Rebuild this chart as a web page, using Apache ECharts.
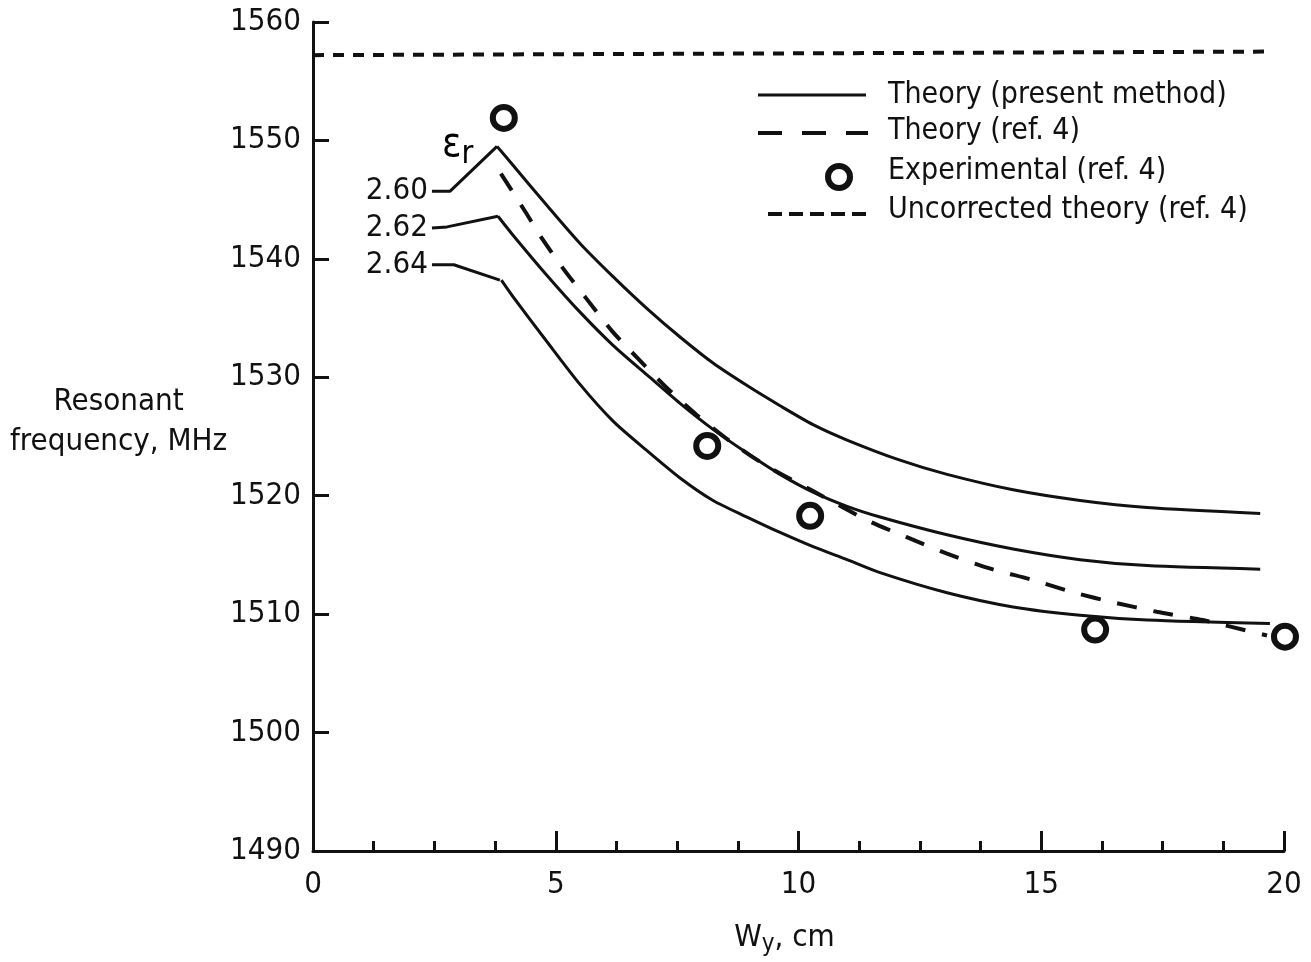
<!DOCTYPE html>
<html>
<head>
<meta charset="utf-8">
<title>Resonant frequency vs W_y</title>
<script src="https://cdn.jsdelivr.net/npm/echarts@6/dist/echarts.min.js"></script>
<style>
  html, body { margin: 0; padding: 0; background: #fff; }
  #chart { width: 1311px; height: 962px; }
</style>
</head>
<body>
<div id="chart"></div>
<script>
// W_y (cm), resonant frequency (MHz)
var xTicks = [0, 5, 10, 15, 20];
var yTicks = [1490, 1500, 1510, 1520, 1530, 1540, 1550, 1560];

// Theory (present method): short leads from the epsilon_r labels to the curve start
var lead260 = [[2.45, 1545.7], [2.82, 1545.7], [3.79, 1549.5]];
var lead262 = [[2.45, 1542.6], [2.76, 1542.7], [3.81, 1543.6]];
var lead264 = [[2.45, 1539.5], [2.90, 1539.5], [3.85, 1538.2]];

// Theory (present method) curves for eps_r = 2.60, 2.62, 2.64
var curve260 = [[3.79, 1549.5], [4.12, 1547.9], [4.82, 1544.5], [5.50, 1541.3], [6.18, 1538.5],
  [6.88, 1535.8], [7.56, 1533.4], [8.24, 1531.2], [8.94, 1529.3], [9.62, 1527.6], [10.30, 1526.0],
  [11.00, 1524.7], [12.09, 1523.0], [13.06, 1521.8], [14.42, 1520.5], [15.80, 1519.6], [17.18, 1519.0],
  [19.51, 1518.5]];
var curve262 = [[3.81, 1543.6], [4.12, 1542.0], [4.82, 1538.6], [5.50, 1535.5], [6.18, 1532.7],
  [6.88, 1530.2], [7.56, 1527.8], [8.24, 1525.6], [8.94, 1523.6], [9.62, 1521.8], [10.30, 1520.3],
  [11.00, 1519.1], [11.68, 1518.2], [13.06, 1516.7], [14.42, 1515.5], [15.80, 1514.6], [17.18, 1514.1],
  [19.51, 1513.8]];
var curve264 = [[3.88, 1538.2], [4.12, 1536.8], [4.82, 1533.0], [5.50, 1529.4], [6.18, 1526.3],
  [6.88, 1523.8], [7.56, 1521.5], [8.24, 1519.6], [8.94, 1518.2], [9.62, 1516.9], [10.30, 1515.7],
  [11.00, 1514.6], [11.68, 1513.5], [13.06, 1511.8], [14.42, 1510.6], [15.80, 1509.9], [17.18, 1509.5],
  [19.71, 1509.2]];

// Theory (ref. 4)
var theoryRef4 = [[3.87, 1547.2], [4.37, 1544.0], [4.72, 1541.7], [5.15, 1539.2], [5.64, 1536.6],
  [6.16, 1533.9], [6.69, 1531.6], [7.29, 1529.1], [7.91, 1526.8], [8.59, 1524.6], [9.31, 1522.6],
  [10.30, 1520.4], [11.43, 1517.9], [12.23, 1516.5], [13.06, 1515.1], [13.90, 1513.9], [14.81, 1512.9],
  [15.70, 1511.8], [16.48, 1511.0], [17.38, 1510.2], [18.33, 1509.5], [19.34, 1508.5], [19.65, 1508.2]];

// Experimental (ref. 4)
var experimental = [[3.93, 1551.9], [8.12, 1524.2], [10.24, 1518.3], [16.11, 1508.7], [20.02, 1508.1]];

// Uncorrected theory (ref. 4)
var uncorrected = [[0, 1557.2], [19.6, 1557.5]];

var epsLabels = ['2.60', '2.62', '2.64'];

var FONT = "'Liberation Sans Narrow', 'DejaVu Sans Condensed', 'Roboto Condensed', sans-serif";
var INK = '#111';

var chart = echarts.init(document.getElementById('chart'), null, { renderer: 'canvas' });

function solidLine(data, smooth) {
  return {
    type: 'line', data: data, showSymbol: false, symbol: 'none', smooth: smooth,
    lineStyle: { color: INK, width: 3 }, silent: true, z: 3
  };
}

function leadLine(data, text) {
  var d = data.map(function (p, i) {
    if (i === 0) {
      return { value: p, label: { show: true, position: 'left', distance: 4, formatter: text,
        fontFamily: FONT, fontSize: 31, color: INK } };
    }
    return p;
  });
  var s = solidLine(d, false);
  s.label = { show: false };
  s.showSymbol = true;
  s.symbolSize = 0.1;
  s.symbol = 'circle';
  s.itemStyle = { color: 'transparent' };
  return s;
}

var legendX = 758, legendTextX = 888;
var legendRows = [97, 133, 173, 212];
var legendNames = ['Theory (present method)', 'Theory (ref. 4)', 'Experimental (ref. 4)', 'Uncorrected theory (ref. 4)'];

var graphics = [
  { type: 'line', shape: { x1: legendX, y1: 95, x2: legendX + 108, y2: 95 },
    style: { stroke: INK, lineWidth: 3 } },
  { type: 'line', shape: { x1: legendX, y1: 133, x2: legendX + 110, y2: 133 },
    style: { stroke: INK, lineWidth: 4, lineDash: [24, 20] } },
  { type: 'circle', shape: { cx: 839, cy: 177, r: 11 },
    style: { fill: '#fff', stroke: INK, lineWidth: 6 } },
  { type: 'line', shape: { x1: 768, y1: 214, x2: 868, y2: 214 },
    style: { stroke: INK, lineWidth: 4, lineDash: [14, 7] } },
  // y-axis title
  { type: 'text', left: 10, top: 382,
    style: { text: 'Resonant\nfrequency, MHz', font: '31px ' + FONT, fill: INK, textAlign: 'center',
      lineHeight: 40, x: 107 } },
  // epsilon_r heading above the curve labels
  { type: 'text', left: 442, top: 126,
    style: { rich: { e: { fontSize: 40, fontFamily: FONT, color: INK },
      s: { fontSize: 32, fontFamily: FONT, color: INK, padding: [18, 0, 0, 0] } },
      text: '{e|ε}{s|r}' } }
];
legendNames.forEach(function (name, i) {
  graphics.push({ type: 'text', left: legendTextX, top: legendRows[i] - 17,
    style: { text: name, font: '30px ' + FONT, fill: INK } });
});

var option = {
  backgroundColor: '#fff',
  animation: false,
  grid: { left: 313, right: 27, top: 22, bottom: 107, containLabel: false },
  xAxis: {
    type: 'value', min: xTicks[0], max: xTicks[xTicks.length - 1], interval: 5,
    name: '{w|W}{s|y}{w|, cm}', nameLocation: 'middle', nameGap: 68,
    nameTextStyle: { padding: [0, 28, 0, 0], rich: {
      w: { fontFamily: FONT, fontSize: 31, color: INK },
      s: { fontFamily: FONT, fontSize: 24, color: INK, padding: [14, 0, 0, 0] } } },
    axisLine: { show: true, onZero: false, lineStyle: { color: INK, width: 3 } },
    axisTick: { show: true, inside: true, length: 20, lineStyle: { color: INK, width: 3 } },
    minorTick: { show: true, splitNumber: 4, length: 10, lineStyle: { color: INK, width: 3 } },
    splitLine: { show: false },
    axisLabel: { margin: 18, fontFamily: FONT, fontSize: 31, color: INK,
      formatter: function (v) { return xTicks.indexOf(v) >= 0 ? String(v) : ''; } }
  },
  yAxis: {
    type: 'value', min: yTicks[0], max: yTicks[yTicks.length - 1], interval: 10,
    axisLine: { show: true, onZero: false, lineStyle: { color: INK, width: 3 } },
    axisTick: { show: true, inside: true, length: 16, lineStyle: { color: INK, width: 3 } },
    splitLine: { show: false },
    axisLabel: { margin: 12, fontFamily: FONT, fontSize: 31, color: INK,
      formatter: function (v) { return yTicks.indexOf(v) >= 0 ? String(v) : ''; } }
  },
  graphic: graphics,
  series: [
    leadLine(lead260, epsLabels[0]),
    leadLine(lead262, epsLabels[1]),
    leadLine(lead264, epsLabels[2]),
    solidLine(curve260, 0.25),
    solidLine(curve262, 0.25),
    solidLine(curve264, 0.25),
    {
      type: 'line', data: theoryRef4, showSymbol: false, symbol: 'none', smooth: 0.25,
      silent: true, lineStyle: { color: INK, width: 4, type: [20, 17] }, z: 3
    },
    {
      type: 'line', data: uncorrected, showSymbol: false, symbol: 'none', silent: true,
      lineStyle: { color: INK, width: 4, type: [11, 9] }, z: 3
    },
    {
      type: 'scatter', data: experimental, symbol: 'circle', symbolSize: 22, clip: false, silent: true,
      itemStyle: { color: '#fff', borderColor: INK, borderWidth: 6, opacity: 1 }, z: 5
    }
  ]
};

chart.setOption(option);
</script>
</body>
</html>
